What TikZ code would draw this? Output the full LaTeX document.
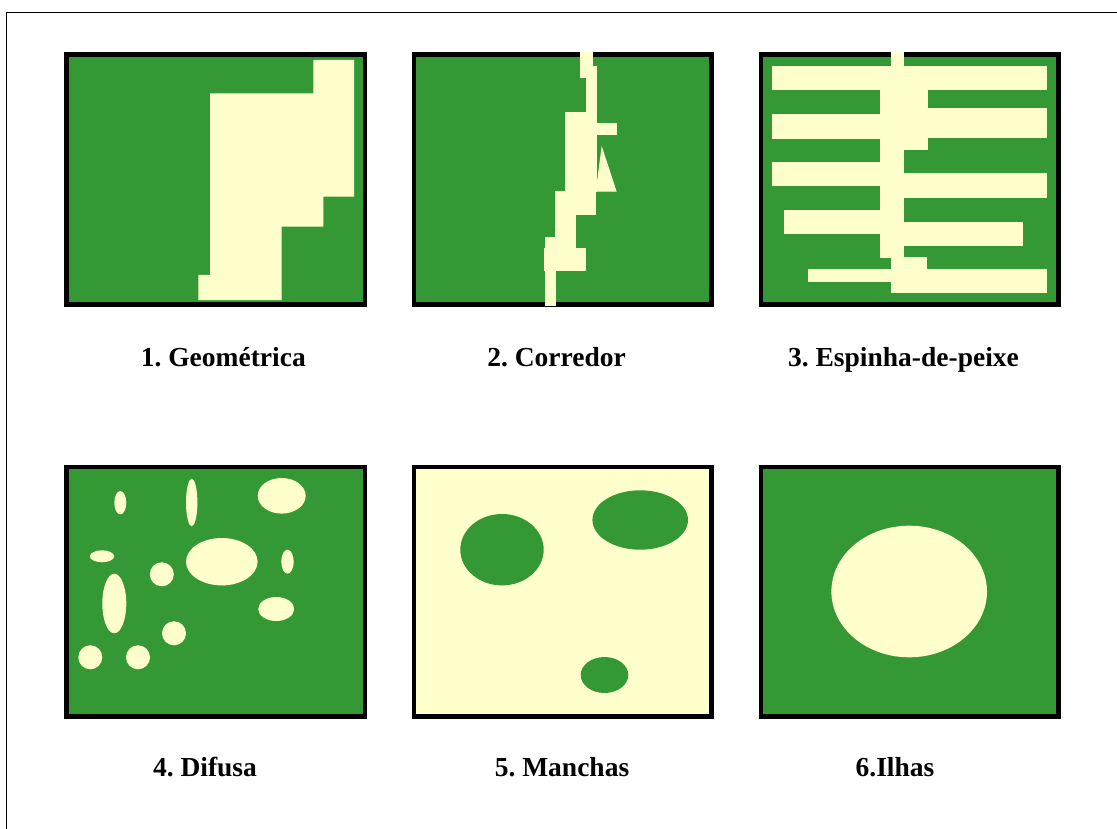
\documentclass[tikz,border=0pt]{standalone}
\usepackage{fontspec}
\setmainfont{Liberation Serif}
\frenchspacing
\definecolor{pgreen}{RGB}{52,153,52}
\definecolor{pcream}{RGB}{255,255,204}
\begin{document}
\begin{tikzpicture}[x=1pt,y=-1pt,
  panel/.style={line width=4.5pt,draw=black,line join=miter},
  light/.style={fill=pcream},
  dark/.style={fill=pgreen},
  lbl/.style={font=\fontsize{27.5}{32}\selectfont\bfseries,anchor=base,inner sep=0pt}]
\useasboundingbox (0,0) rectangle (1117,829);
\clip (0,0) rectangle (1117,829);
\fill[white] (0,0) rectangle (1117,829);
\draw[line width=1.5pt] (6.5,900) -- (6.5,12.5) -- (1200,12.5);

% ---------- Panel 1: Geometrica
\filldraw[panel,fill=pgreen] (66.5,54.5) rectangle (365,304.5);
\fill[light] (313.3,60) -- (354,60) -- (354,196.7) -- (323.3,196.7) -- (323.3,226.7)
  -- (281.7,226.7) -- (281.7,300) -- (198.3,300) -- (198.3,275) -- (210,275)
  -- (210,93.3) -- (313.3,93.3) -- cycle;
\node[lbl] (l1) at (223.3,366.7) {1. Geométrica};

% ---------- Panel 2: Corredor
\filldraw[panel,fill=pgreen] (414,54.5) rectangle (711.5,304.5);
\fill[light] (580,52.5) rectangle (592.7,78.3);
\fill[light] (586,66) rectangle (596.7,112);
\fill[light] (565,111.7) rectangle (596.7,191.7);
\fill[light] (596,122.7) rectangle (617,135);
\fill[light] (601.7,146) -- (616.7,191.7) -- (595.7,191.7) -- cycle;
\fill[light] (555,190.7) rectangle (596,215);
\fill[light] (555,214.5) rectangle (576,248.3);
\fill[light] (545,236.7) rectangle (576,248.3);
\fill[light] (544,247.7) rectangle (586,271);
\fill[light] (545,270) rectangle (555.7,305.7);
\node[lbl] (l2) at (556.5,366.7) {2. Corredor};

% ---------- Panel 3: Espinha-de-peixe
\filldraw[panel,fill=pgreen] (761,54.5) rectangle (1058.5,304.5);
\fill[light] (891,52.5) rectangle (904,66.5);
\fill[light] (772,66) rectangle (1047,90);
\fill[light] (880,89.5) rectangle (928,108.5);
\fill[light] (772,114) rectangle (880,139);
\fill[light] (928,108.3) rectangle (1047,138.3);
\fill[light] (880,108) rectangle (928,150);
\fill[light] (880,149.5) rectangle (904,257.7);
\fill[light] (772,161.7) rectangle (880,186);
\fill[light] (904,172.7) rectangle (1047,197.7);
\fill[light] (784,210) rectangle (880,234);
\fill[light] (904,221.7) rectangle (1023,246);
\fill[light] (891,257) rectangle (927,269.5);
\fill[light] (808,269) rectangle (891.5,281.7);
\fill[light] (891,269) rectangle (1047,292.7);
\node[lbl] (l3) at (903.5,366.7) {3. Espinha-de-peixe};

% ---------- Panel 4: Difusa
\filldraw[panel,fill=pgreen] (66.5,467) rectangle (365,716.5);
\fill[light] (120.3,502.7) ellipse [x radius=6, y radius=11.7];
\fill[light] (191.7,502.5) ellipse [x radius=5.7, y radius=23.8];
\fill[light] (281.7,495.8) ellipse [x radius=24, y radius=17.8];
\fill[light] (102,556.3) ellipse [x radius=12.2, y radius=6];
\fill[light] (161.8,574.3) circle [radius=12];
\fill[light] (221.8,561.7) ellipse [x radius=35.8, y radius=23.7];
\fill[light] (287.5,561.7) ellipse [x radius=6.2, y radius=12];
\fill[light] (114.3,603.5) ellipse [x radius=12, y radius=29.8];
\fill[light] (276.2,609) ellipse [x radius=18, y radius=12];
\fill[light] (174,633.3) circle [radius=12];
\fill[light] (90.3,657.3) circle [radius=12];
\fill[light] (138,657.3) circle [radius=12];
\node[lbl] (l4) at (205,776.7) {4. Difusa};

% ---------- Panel 5: Manchas
\filldraw[panel,fill=pcream] (414,467) rectangle (711.5,716.5);
\fill[dark] (502,549.7) ellipse [x radius=41.7, y radius=35.7];
\fill[dark] (640.2,520) ellipse [x radius=47.8, y radius=29.7];
\fill[dark] (604.5,675) ellipse [x radius=23.8, y radius=18];
\node[lbl] (l5) at (562,776.7) {5. Manchas};

% ---------- Panel 6: Ilhas
\filldraw[panel,fill=pgreen] (761,467) rectangle (1058.5,716.5);
\fill[light] (909.2,591.5) ellipse [x radius=77.8, y radius=65.8];
\node[lbl] (l6) at (895,776.7) {6.Ilhas};
\end{tikzpicture}
\end{document}
